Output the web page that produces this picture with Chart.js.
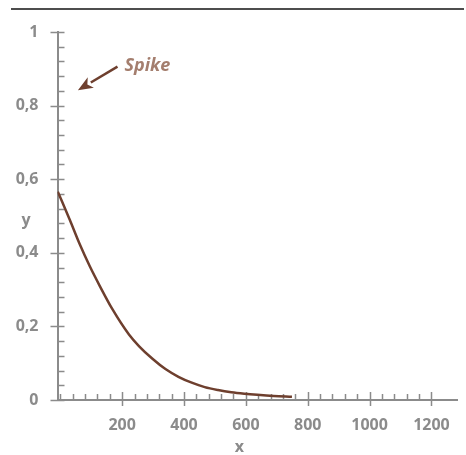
<!DOCTYPE html>
<html>
<head>
<meta charset="utf-8">
<script src="https://cdn.jsdelivr.net/npm/chart.js@4/dist/chart.umd.min.js"></script>
<style>
  html, body { margin: 0; padding: 0; background: #ffffff; }
  #wrap { width: 466px; height: 455px; position: relative; }
</style>
</head>
<body>
<div id="wrap"><canvas id="c" width="466" height="455"></canvas></div>
<script>
// ---- data ----
const xValues = [-8, 31, 63, 95, 127, 169, 222, 255, 298, 340, 382, 425, 467, 510, 553, 595, 637, 690, 749];
const yValues = [0.566, 0.489, 0.423, 0.364, 0.311, 0.246, 0.178, 0.146, 0.112, 0.084, 0.063, 0.047, 0.035, 0.027, 0.021, 0.017, 0.014, 0.011, 0.009];
const xTickLabels = [200, 400, 600, 800, 1000, 1200];
const yTickLabels = [0, 0.2, 0.4, 0.6, 0.8, 1];
const xMinorStep = 40;
const yMinorStep = 0.04;
const annotationText = ['Spike'];
const arrowTail = [185, 0.906];
const arrowTip = [57, 0.842];

const GRAY = '#8b8b8b';
const BROWN = '#6e3f2e';
const FONT = 'Open Sans';

const points = xValues.map((x, i) => ({ x: x, y: yValues[i] }));

const decor = {
  id: 'decor',
  beforeDatasetsDraw(chart) {
    const ctx = chart.ctx;
    const xs = chart.scales.x, ys = chart.scales.y;
    const a = chart.chartArea;
    ctx.save();
    // top rule
    ctx.strokeStyle = '#4d4d4d';
    ctx.lineWidth = 2;
    ctx.beginPath();
    ctx.moveTo(11, 9); ctx.lineTo(464, 9);
    ctx.stroke();
    // ticks
    ctx.strokeStyle = GRAY;
    ctx.lineWidth = 1.5;
    ctx.beginPath();
    for (let v = 0; v <= 1200 + 1e-9; v += xMinorStep) {
      const px = Math.round(xs.getPixelForValue(v)) + 0.5;
      const major = xTickLabels.includes(Math.round(v));
      if (major) { ctx.moveTo(px, a.bottom - 8); ctx.lineTo(px, a.bottom + 6); }
      else { ctx.moveTo(px, a.bottom - 6); ctx.lineTo(px, a.bottom); }
    }
    for (let k = 0; k <= 25; k++) {
      const v = k * yMinorStep;
      const py = Math.round(ys.getPixelForValue(v)) + 0.5;
      const major = (k % 5 === 0);
      if (major) { ctx.moveTo(a.left - 7, py); ctx.lineTo(a.left + 7, py); }
      else { ctx.moveTo(a.left, py); ctx.lineTo(a.left + 7, py); }
    }
    ctx.stroke();
    // axis titles
    ctx.fillStyle = GRAY;
    ctx.font = 'bold 16px "' + FONT + '"';
    ctx.textAlign = 'center';
    ctx.textBaseline = 'middle';
    ctx.fillText('y', 26, (a.top + a.bottom) / 2 + 4);
    ctx.fillText('x', (a.left + a.right) / 2 - 18, 447);
    ctx.restore();
  },
  afterDatasetsDraw(chart) {
    const ctx = chart.ctx;
    const xs = chart.scales.x, ys = chart.scales.y;
    const tx = xs.getPixelForValue(arrowTail[0]), ty = ys.getPixelForValue(arrowTail[1]);
    const hx = xs.getPixelForValue(arrowTip[0]), hy = ys.getPixelForValue(arrowTip[1]);
    const ang = Math.atan2(hy - ty, hx - tx);
    const headLen = 15, headW = 6;
    const bx = hx - headLen * Math.cos(ang), by = hy - headLen * Math.sin(ang);
    ctx.save();
    ctx.strokeStyle = BROWN;
    ctx.fillStyle = BROWN;
    ctx.lineWidth = 2.5;
    ctx.beginPath();
    ctx.moveTo(tx, ty); ctx.lineTo(bx, by);
    ctx.stroke();
    ctx.beginPath();
    ctx.moveTo(hx, hy);
    ctx.lineTo(bx + headW * Math.sin(ang), by - headW * Math.cos(ang));
    ctx.lineTo(hx - (headLen - 4) * Math.cos(ang), hy - (headLen - 4) * Math.sin(ang));
    ctx.lineTo(bx - headW * Math.sin(ang), by + headW * Math.cos(ang));
    ctx.closePath();
    ctx.fill();
    ctx.fillStyle = '#a47e6e';
    ctx.font = 'italic bold 18px "' + FONT + '"';
    ctx.textAlign = 'left';
    ctx.textBaseline = 'alphabetic';
    ctx.fillText(annotationText[0], tx + 7, ty + 4);
    ctx.restore();
  }
};

new Chart(document.getElementById('c'), {
  type: 'scatter',
  data: {
    datasets: [{
      data: points,
      showLine: true,
      borderColor: BROWN,
      borderWidth: 2.5,
      pointRadius: 0,
      cubicInterpolationMode: 'monotone',
      fill: false
    }]
  },
  options: {
    responsive: false,
    animation: false,
    events: [],
    layout: { padding: { left: 0, right: 4, top: 32, bottom: 0 } },
    plugins: { legend: { display: false }, tooltip: { enabled: false }, title: { display: false } },
    scales: {
      x: {
        type: 'linear',
        min: -9, max: 1283,
        grid: { display: false, drawTicks: false },
        border: { display: true, color: GRAY, width: 2 },
        afterBuildTicks: s => { s.ticks = xTickLabels.map(v => ({ value: v })); },
        afterFit: s => { s.height = 55; },
        ticks: {
          padding: 16,
          color: GRAY,
          font: { family: FONT, size: 16, weight: 'bold' },
          maxRotation: 0, autoSkip: false,
          callback: v => String(v)
        }
      },
      y: {
        type: 'linear',
        min: 0, max: 1,
        grid: { display: false, drawTicks: false },
        border: { display: true, color: GRAY, width: 2 },
        afterBuildTicks: s => { s.ticks = yTickLabels.map(v => ({ value: v })); },
        afterFit: s => { s.width = 57.5; },
        ticks: {
          padding: 19,
          color: GRAY,
          font: { family: FONT, size: 16, weight: 'bold' },
          autoSkip: false,
          callback: v => String(v).replace('.', ',')
        }
      }
    }
  },
  plugins: [decor]
});
</script>
</body>
</html>
